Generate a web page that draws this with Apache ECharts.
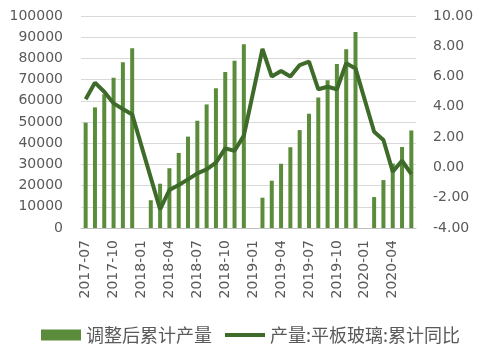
<!DOCTYPE html>
<html>
<head>
<meta charset="utf-8">
<script src="https://cdn.jsdelivr.net/npm/echarts@6/dist/echarts.min.js"></script>
<style>
  html,body{margin:0;padding:0;background:#fff;}
  #chart{width:482px;height:354px;}
</style>
</head>
<body>
<div id="chart"></div>
<script>
var months = ['2017-07','2017-08','2017-09','2017-10','2017-11','2017-12',
  '2018-01','2018-02','2018-03','2018-04','2018-05','2018-06','2018-07','2018-08','2018-09','2018-10','2018-11','2018-12',
  '2019-01','2019-02','2019-03','2019-04','2019-05','2019-06','2019-07','2019-08','2019-09','2019-10','2019-11','2019-12',
  '2020-01','2020-02','2020-03','2020-04','2020-05','2020-06'];

// 调整后累计产量
var output = [49700,56900,63100,70900,78200,84800,
  null,13100,20900,28200,35400,43100,50600,58300,65900,73600,78900,86700,
  null,14300,22300,30300,38100,46200,53900,61600,69700,77400,84300,92400,
  null,14600,22600,30400,38200,46000];

// 产量:平板玻璃:累计同比
var yoy = [4.5,5.6,5.0,4.23,3.86,3.5,
  null,null,-2.77,-1.49,-1.16,-0.79,-0.39,-0.13,0.31,1.26,1.1,2.1,
  null,7.82,6.0,6.37,6.0,6.76,6.98,5.16,5.33,5.16,6.88,6.54,
  null,2.36,1.81,-0.28,0.44,-0.44];

var barName = '调整后累计产量';
var lineName = '产量:平板玻璃:累计同比';

var numFont = 'DejaVu Sans';
var grey = '#595959';
var lineColor = '#3e6b29';

var myChart = echarts.init(document.getElementById('chart'));
var option = {
  animation:false,
  grid:{left:81,right:66,top:16,bottom:126},
  legend:{
    left:36, top:321,
    itemWidth:40, itemHeight:11, itemGap:13,
    symbolKeepAspect:true,
    textStyle:{fontSize:18, color:grey, fontFamily:'Noto Sans CJK SC'},
    data:[
      {name:barName, icon:'rect'},
      {name:lineName, icon:'path://M0,0L40,0L40,4L0,4Z', itemStyle:{color:lineColor}}
    ]
  },
  xAxis:{
    type:'category',
    data:months,
    boundaryGap:true,
    axisLine:{lineStyle:{color:'#bfbfbf'}},
    axisTick:{interval:2, length:5, lineStyle:{color:'#bfbfbf'}},
    axisLabel:{interval:2, rotate:90, margin:12, color:grey, fontSize:14, fontFamily:numFont}
  },
  yAxis:[{
    type:'value', min:0, max:100000, interval:10000,
    axisLine:{show:false}, axisTick:{show:false},
    splitLine:{lineStyle:{color:'#d9d9d9'}},
    axisLabel:{margin:18, color:grey, fontSize:14, fontFamily:numFont,
      formatter:function(v){return String(v);}}
  },{
    type:'value', min:-4, max:10, interval:2,
    axisLine:{show:false}, axisTick:{show:false},
    splitLine:{show:false},
    axisLabel:{margin:17, color:grey, fontSize:14, fontFamily:numFont,
      formatter:function(v){return v.toFixed(2);}}
  }],
  series:[{
    name:barName,
    type:'bar',
    data:output,
    barWidth:4,
    itemStyle:{color:'#5b8c3b'}
  },{
    name:lineName,
    type:'line',
    yAxisIndex:1,
    data:yoy,
    connectNulls:true,
    symbol:'none',
    lineStyle:{width:4, color:lineColor},
    itemStyle:{color:lineColor}
  }]
};
myChart.setOption(option);
</script>
</body>
</html>
